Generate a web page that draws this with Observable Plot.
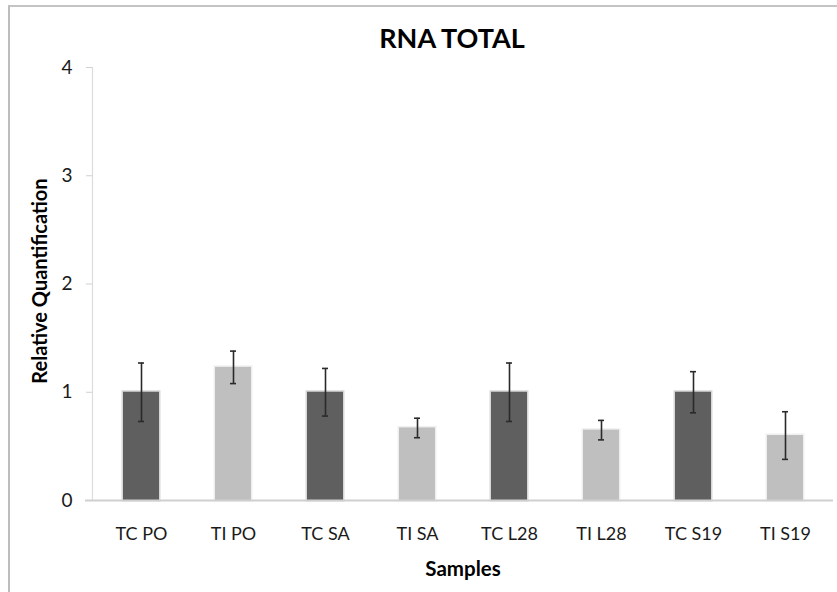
<!DOCTYPE html>
<html>
<head>
<meta charset="utf-8">
<script src="https://cdn.jsdelivr.net/npm/d3@7"></script>
<script src="https://cdn.jsdelivr.net/npm/@observablehq/plot@0.6"></script>
<style>
  html, body { margin: 0; padding: 0; background: #fff; }
  #wrap { position: relative; width: 837px; height: 592px; overflow: hidden; }
  #border { position: absolute; left: 8px; top: 5px; width: 900px; height: 700px;
            border-left: 2px solid #bdbdbd; border-top: 2px solid #c4c4c4; pointer-events: none; }
  #chart { position: absolute; left: 0; top: 0; }
  svg { font-family: Lato, "Open Sans", sans-serif; }
</style>
</head>
<body>
<div id="wrap"><div id="border"></div><div id="chart"></div></div>
<script>
const categories = ["TC PO", "TI PO", "TC SA", "TI SA", "TC L28", "TI L28", "TC S19", "TI S19"];
const groups     = ["TC", "TI", "TC", "TI", "TC", "TI", "TC", "TI"];
const values     = [1.00, 1.23, 1.00, 0.67, 1.00, 0.65, 1.00, 0.60];
const errors     = [0.27, 0.15, 0.22, 0.09, 0.27, 0.09, 0.19, 0.22];
const yTicks     = [0, 1, 2, 3, 4];
const title      = "RNA TOTAL";
const xTitle     = "Samples";
const yTitle     = "Relative Quantification";

const data = categories.map((c, i) => ({
  cat: c, group: groups[i], v: values[i], lo: values[i] - errors[i], hi: values[i] + errors[i]
}));

const chart = Plot.plot({
  width: 837,
  height: 592,
  marginTop: 67,
  marginBottom: 92,
  marginLeft: 92,
  marginRight: 4,
  style: { fontFamily: "Lato, 'Open Sans', sans-serif", background: "transparent" },
  x: { domain: categories, paddingInner: 0.61, paddingOuter: 0.305, label: null },
  y: { domain: [0, 4], label: null },
  color: { domain: ["TC", "TI"], range: ["#5f5f5f", "#bfbfbf"] },
  marks: [
    Plot.frame({ anchor: "left", stroke: "#dcdcdc", strokeWidth: 1.2 }),
    Plot.axisY({ ticks: yTicks, tickSize: 6, tickPadding: 14, stroke: "#d0d0d0",
                 fontSize: 19, fill: "#1a1a1a", tickFormat: d => String(d) }),
    Plot.axisX({ tickSize: 0, tickPadding: 27, fontSize: 18, fill: "#1a1a1a" }),
    Plot.barY(data, { x: "cat", y: "v", fill: "group", stroke: "group", strokeOpacity: 0.25, strokeWidth: 3 }),
    Plot.ruleY([0], { stroke: "#cfcfcf", strokeWidth: 2, insetLeft: -7 }),
    Plot.ruleX(data, { x: "cat", y1: "lo", y2: "hi", stroke: "#2a2a2a", strokeWidth: 1.6 }),
    Plot.tickY(data, { x: "cat", y: "hi", stroke: "#2a2a2a", strokeWidth: 1.6, insetLeft: 15, insetRight: 15 }),
    Plot.tickY(data, { x: "cat", y: "lo", stroke: "#2a2a2a", strokeWidth: 1.6, insetLeft: 15, insetRight: 15 }),
    Plot.text([title], { frameAnchor: "top", text: d => d, dy: -20, dx: -11, fontSize: 27, fontWeight: "bold", fill: "#000", lineAnchor: "bottom" }),
    Plot.text([xTitle], { frameAnchor: "bottom", text: d => d, dy: 75, fontSize: 20.5, fontWeight: "bold", fill: "#000" }),
    Plot.text([yTitle], { frameAnchor: "left", text: d => d, dx: -52, dy: -3, rotate: -90, textAnchor: "middle", fontSize: 20, fontWeight: "bold", fill: "#000" })
  ]
});
document.getElementById("chart").appendChild(chart);
</script>
</body>
</html>
